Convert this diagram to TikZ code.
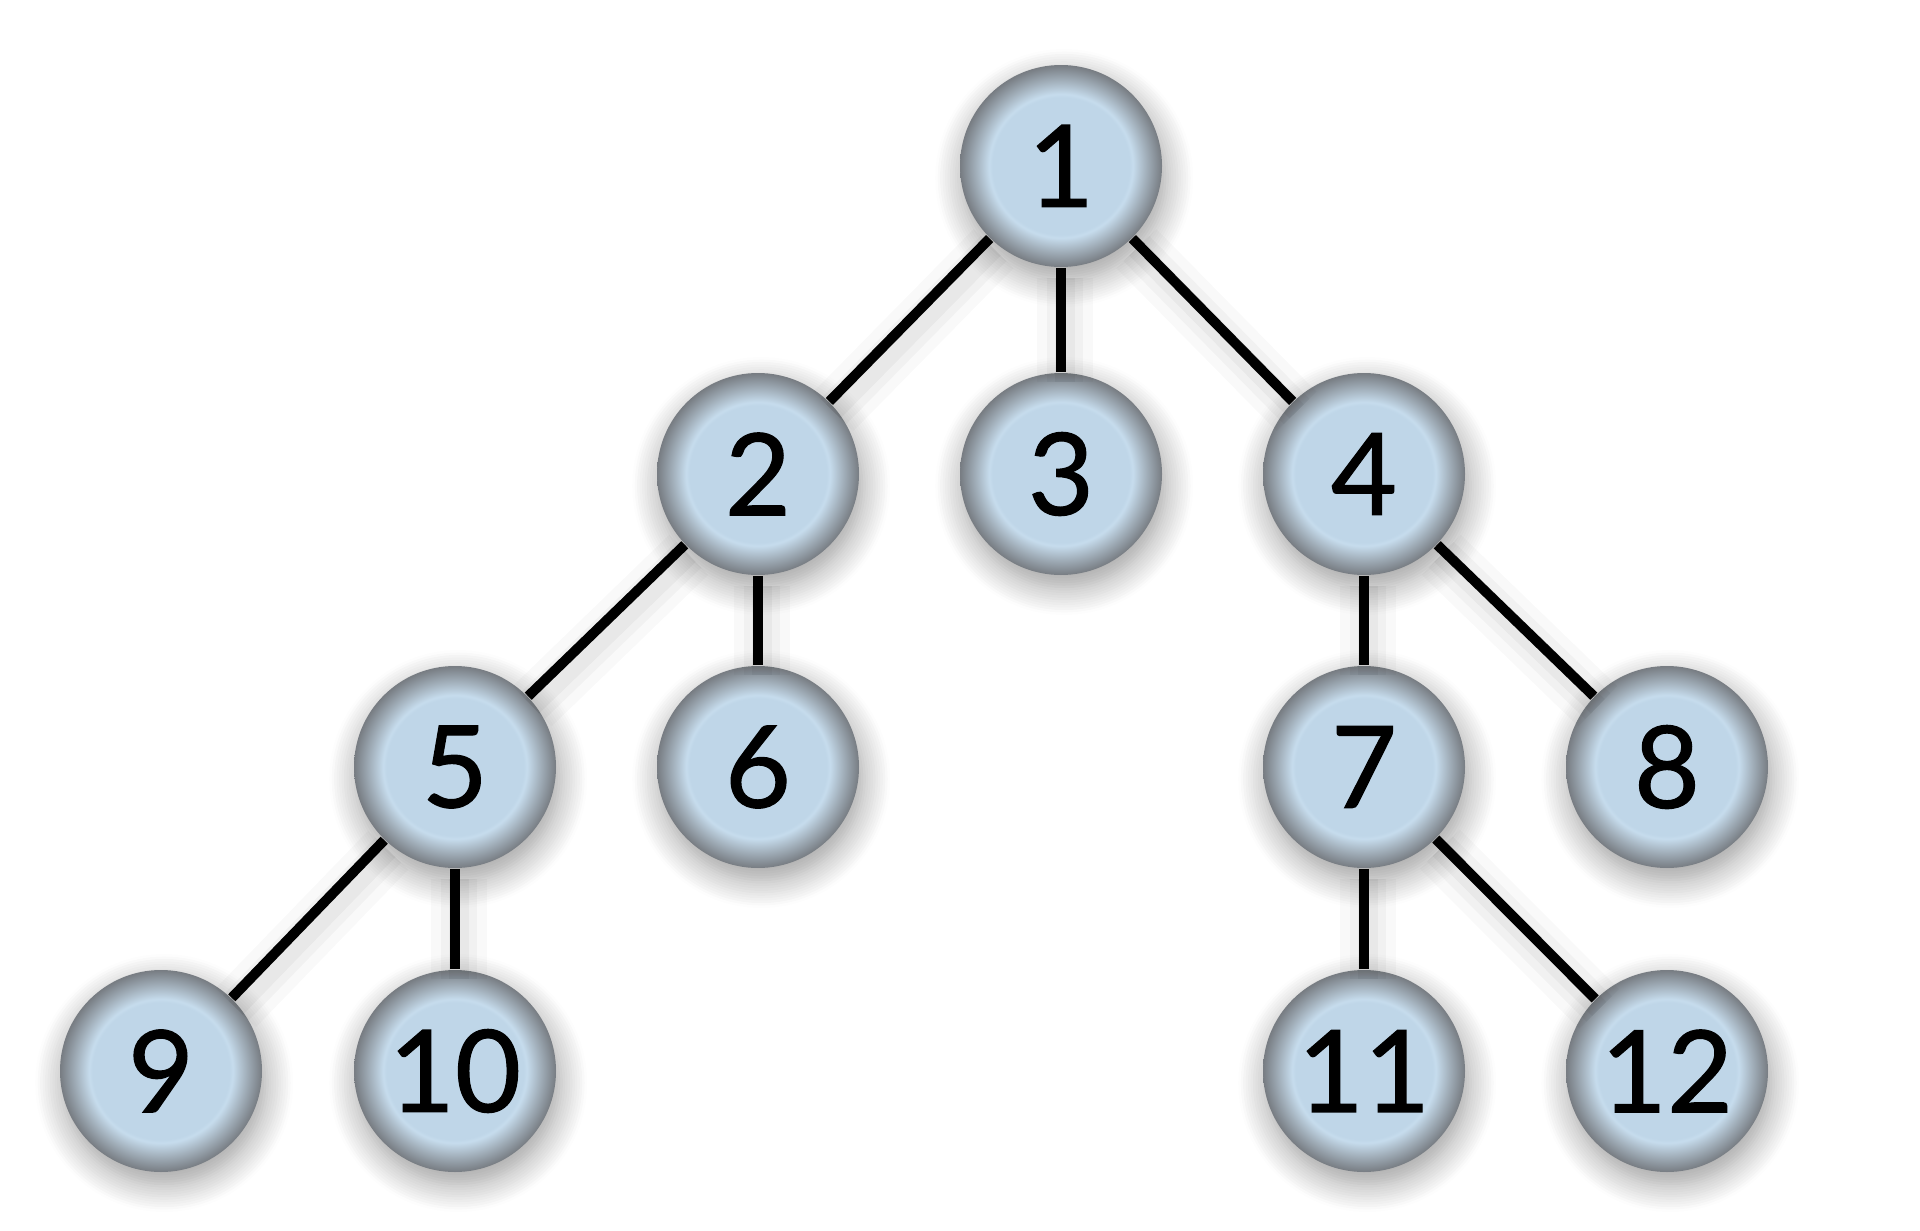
\documentclass[tikz,border=0pt]{standalone}
\usepackage{fontspec}
\setmainfont{Lato}
\newfontfamily\ballfont{Lato}[FakeBold=1]
\usetikzlibrary{shadows.blur}
\definecolor{ballblue}{HTML}{BFD6E8}
\definecolor{balllight}{HTML}{C6DCED}
\definecolor{ballmid}{HTML}{A0ADB8}
\definecolor{ballrim}{HTML}{777C82}
\pgfdeclareradialshading{treeball}{\pgfpoint{0bp}{0bp}}{%
  color(0bp)=(ballblue); color(17bp)=(ballblue);
  color(17.8bp)=(balllight); color(21.3bp)=(ballmid);
  color(25bp)=(ballrim); color(50bp)=(ballrim)}
\tikzset{
  treenode/.style={circle, minimum size=50.5pt, inner sep=0pt,
    shading=treeball,
    blur shadow={shadow xshift=0.8pt, shadow yshift=-3pt,
      shadow blur radius=7pt, shadow blur steps=12,
      shadow opacity=40},
    font=\ballfont\fontsize{28.5}{30}\selectfont},
  treeedge/.style={line width=2.5pt,
    preaction={draw, draw opacity=.025, line width=14pt,
      transform canvas={shift={(1pt,-2.5pt)}}},
    preaction={draw, draw opacity=.03, line width=9pt,
      transform canvas={shift={(1pt,-2.5pt)}}},
    preaction={draw, draw opacity=.04, line width=5pt,
      transform canvas={shift={(1pt,-2.5pt)}}}}
}
\begin{document}
\begin{tikzpicture}[x=0.25pt,y=-0.25pt]
  \useasboundingbox (0,0) rectangle (1920,1231);
  % nodes, by row
  \foreach \n/\x/\y in {1/1061/166,
      2/758/474, 3/1061/474, 4/1364/474,
      5/455/767, 6/758/767, 7/1364/767, 8/1667/767,
      9/161/1071, 10/455/1071, 11/1364/1071, 12/1667/1071}
    \node[treenode] (n\n) at (\x,\y) {\n};
  % edges
  \foreach \a/\b in {1/2, 1/3, 1/4, 2/5, 2/6, 4/7, 4/8,
      5/9, 5/10, 7/11, 7/12}
    \draw[treeedge] (n\a) -- (n\b);
\end{tikzpicture}
\end{document}
